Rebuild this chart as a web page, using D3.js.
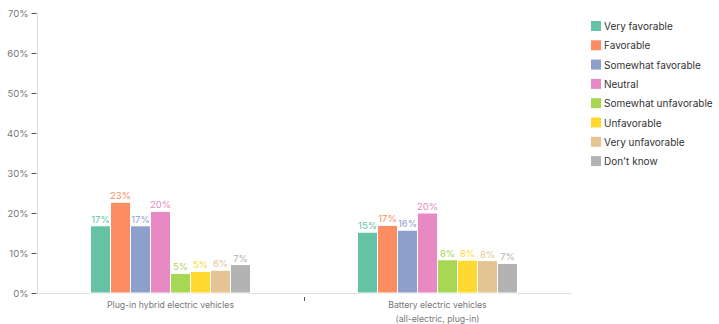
<!DOCTYPE html>
<html><head><meta charset="utf-8">
<script src="https://cdn.jsdelivr.net/npm/d3@7"></script>
<style>body{margin:0;background:#fff;font-family:Inter,"DejaVu Sans",sans-serif}</style>
</head><body><svg id="c" width="719" height="324"></svg>
<script>
const categories = ["Plug-in hybrid electric vehicles", "Battery electric vehicles\n(all-electric, plug-in)"];
const seriesNames = ["Very favorable","Favorable","Somewhat favorable","Neutral","Somewhat unfavorable","Unfavorable","Very unfavorable","Don't know"];
const hybridValues = [16.8, 22.7, 16.8, 20.4, 4.9, 5.4, 5.7, 7.1];
const batteryValues = [15.2, 16.9, 15.7, 20.0, 8.3, 8.2, 8.1, 7.4];
const colors = ["#66c2a5","#fc8d62","#8da0cb","#e78ac3","#a6d854","#ffd92f","#e5c494","#b3b3b3"];
const yTicks = [0,10,20,30,40,50,60,70];

(function(){
const svg = d3.select("#c");
const mLeft = 37, mRight = 571, mTop = 13, mBottom = 293;
const x0 = d3.scaleBand().domain(categories).range([mLeft, mRight]).paddingInner(0).paddingOuter(0);
const x1 = d3.scaleBand().domain(seriesNames).range([0, 160]);
const y = d3.scaleLinear().domain([0,70]).range([mBottom, mTop]);
const data = [hybridValues, batteryValues];

svg.append("line").attr("x1",mLeft+0.5).attr("x2",mLeft+0.5).attr("y1",mTop-1).attr("y2",mBottom).attr("stroke","#ddd");
const ya = svg.append("g").attr("transform",`translate(${mLeft-0.5},0)`)
  .call(d3.axisLeft(y).tickValues(yTicks).tickFormat(d=>d+"%").tickSize(5).tickPadding(3));
ya.select(".domain").remove();
ya.selectAll(".tick line").attr("stroke","#555");
ya.selectAll("text").attr("fill","#777").style("font-size","9.5px").style("font-family","Inter, DejaVu Sans, sans-serif");

svg.append("line").attr("x1",mLeft).attr("x2",mRight).attr("y1",mBottom+0.5).attr("y2",mBottom+0.5).attr("stroke","#ddd");
svg.append("line").attr("x1",mLeft+x0.bandwidth()+0.5).attr("x2",mLeft+x0.bandwidth()+0.5).attr("y1",mBottom+4).attr("y2",mBottom+8).attr("stroke","#555");

categories.forEach((cat,ci)=>{
  const gx = x0(cat) + (x0.bandwidth()-160)/2;
  const g = svg.append("g").attr("transform",`translate(${gx},0)`);
  seriesNames.forEach((s,si)=>{
    const v = data[ci][si];
    g.append("rect").attr("x",x1(s)).attr("y",y(v)).attr("width",x1.bandwidth()).attr("height",mBottom-y(v))
      .attr("fill",colors[si]).attr("stroke","#fff").attr("stroke-width",1);
    g.append("text").attr("x",x1(s)+x1.bandwidth()/2).attr("y",y(v)-3).attr("text-anchor","middle")
      .attr("fill",colors[si]).style("font-size","9.5px").text(Math.round(v)+"%");
  });
  cat.split("\n").forEach((l,li)=>{
    svg.append("text").attr("x",x0(cat)+x0.bandwidth()/2).attr("y",mBottom+15+li*13.5).attr("text-anchor","middle")
      .attr("fill","#777").style("font-size","8.7px").text(l);
  });
});

const lg = svg.append("g").attr("transform","translate(591,21)");
seriesNames.forEach((s,i)=>{
  const row = lg.append("g").attr("transform",`translate(0,${i*19.3})`);
  row.append("rect").attr("width",10).attr("height",10).attr("fill",colors[i]);
  row.append("text").attr("x",13).attr("y",9).attr("fill","#333").style("font-size","10px").text(s);
});
})();
</script></body></html>
